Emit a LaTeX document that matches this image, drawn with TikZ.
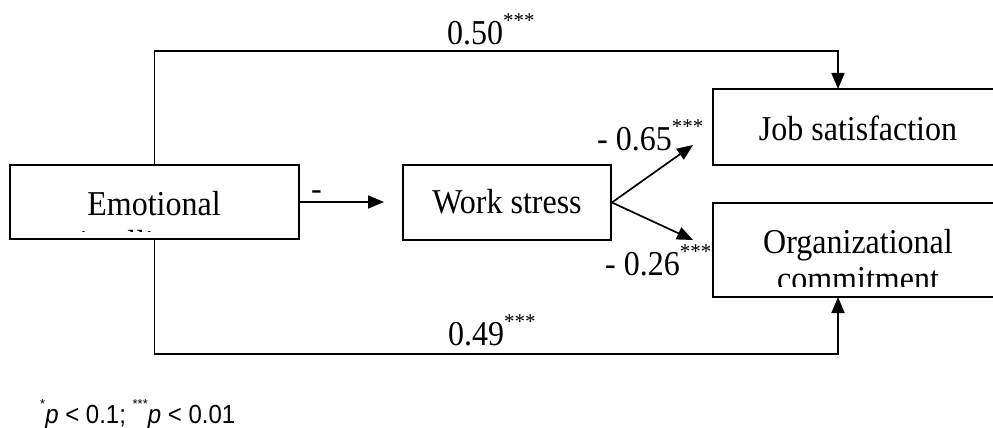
\documentclass[tikz,border=0pt]{standalone}
\usepackage{fontspec}
\setmainfont{Liberation Serif}
\newfontfamily\arialf{Liberation Sans}
\usetikzlibrary{arrows.meta}
\newcommand\starsup[1]{\raisebox{17pt}{\fontsize{21}{21}\selectfont #1}}
\newcommand\fnsup[1]{\raisebox{15pt}{\fontsize{13}{13}\selectfont #1}}
\newcommand\vst[1]{\scalebox{1}[1.09]{#1}}
\begin{document}
\begin{tikzpicture}[x=1pt,y=-1pt,
  box/.style={draw=black,line width=1.8pt,rectangle,inner sep=0pt},
  txt/.style={inner sep=0pt,anchor=base,font=\fontsize{32}{36}\selectfont},
  lbl/.style={inner sep=0pt,anchor=base west,font=\fontsize{32}{36}\selectfont},
  arr/.style={line width=1.7pt,-{Triangle[length=16pt,width=13pt]}},
  conn/.style={line width=1.7pt}]
\path[use as bounding box] (0,0) rectangle (993,428);
\clip (0,0) rectangle (993,428);
% boxes
\node[box,minimum width=289pt,minimum height=74pt] (emo) at (154.5,202) {};
\node[box,minimum width=208pt,minimum height=75pt] (work) at (507,202.5) {};
\node[box,minimum width=290pt,minimum height=76pt] (job) at (858,127) {};
\node[box,minimum width=290pt,minimum height=94pt] (org) at (858,250) {};
% texts
\begin{scope}
\clip (12,167) rectangle (297,231);
\node[txt] (emot1) at (154,215) {\vst{Emotional}};
\node[txt] (emot2) at (154,254) {\vst{intelligence}};
\end{scope}
\node[txt] (workt) at (507,213) {\vst{Work stress}};
\node[txt] (jobt) at (858,140) {\vst{Job satisfaction}};
\begin{scope}
\clip (715,205) rectangle (1001,286);
\node[txt] (orgt1) at (858,253) {\vst{Organizational}};
\node[txt] (orgt2) at (858,290) {\vst{commitment}};
\end{scope}
% connector end points
\coordinate (jt) at (838,89);
\coordinate (ob) at (838,297);
\coordinate (ew) at (384,202);
\coordinate (wj) at (693,145);
\coordinate (wo) at (693,240);
% connectors
\draw[arr] (emo.north) -- ++(0,-113) -| (jt);
\draw[arr] (emo.south) -- ++(0,114) -| (ob);
\draw[arr] (emo.east) -- (ew);
\draw[arr] (work.east) -- (wj);
\draw[arr] (work.east) -- (wo);
% labels
\node[lbl] (l50) at (447,45) {\vst{0.50}\starsup{***}};
\node[lbl] (l49) at (448,345) {\vst{0.49}\starsup{***}};
\node[lbl] (lm) at (311,199) {-};
\node[lbl] (l65) at (597,150) {\vst{- 0.65}\starsup{***}};
\node[lbl] (l26) at (605,275) {\vst{- 0.26}\starsup{***}};
\node[inner sep=0pt,anchor=base west,font=\arialf\fontsize{24}{28}\selectfont] (fn) at (40,423)
  {\fnsup{*}\vst{\textit{p} < 0.1; }\fnsup{***}\vst{\textit{p} < 0.01}};
\end{tikzpicture}
\end{document}
